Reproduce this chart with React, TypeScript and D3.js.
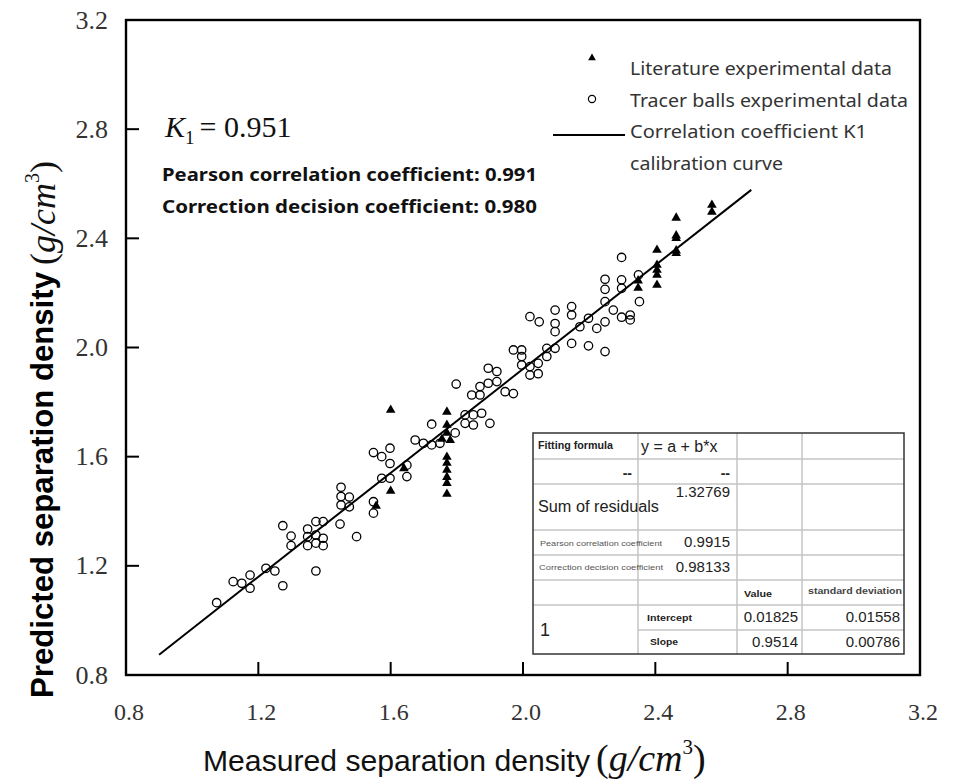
import React from "react";
import * as d3 from "d3";

const tickValues = [0.8, 1.2, 1.6, 2.0, 2.4, 2.8, 3.2];
const tickLabels = ["0.8", "1.2", "1.6", "2.0", "2.4", "2.8", "3.2"];

const tracerMeasured = [
  1.074, 1.124, 1.15, 1.175, 1.175, 1.223, 1.25, 1.274, 1.374, 1.274, 1.299, 1.299, 1.349, 1.349, 1.349,
  1.374, 1.396, 1.374, 1.396, 1.396, 1.374, 1.45, 1.45, 1.475, 1.45, 1.475, 1.447, 1.497, 1.548, 1.573,
  1.598, 1.598, 1.573, 1.598, 1.548, 1.548, 1.649, 1.649, 1.674, 1.724, 1.699, 1.749, 1.798, 1.795, 1.724,
  1.825, 1.85, 1.875, 1.825, 1.85, 1.9, 1.845, 1.87, 1.87, 1.895, 1.921, 1.895, 1.921, 1.946, 1.971,
  1.971, 1.996, 1.996, 1.996, 2.021, 2.021, 2.046, 2.046, 2.072, 2.072, 2.097, 2.021, 2.049, 2.097, 2.097,
  2.097, 2.147, 2.147, 2.147, 2.172, 2.198, 2.198, 2.223, 2.248, 2.248, 2.248, 2.273, 2.298, 2.324, 2.324,
  2.248, 2.248, 2.298, 2.298, 2.298, 2.349, 2.352,
];
const tracerPredicted = [
  1.065, 1.142, 1.136, 1.166, 1.118, 1.191, 1.181, 1.127, 1.181, 1.347, 1.309, 1.274, 1.335, 1.307, 1.274,
  1.362, 1.362, 1.313, 1.301, 1.274, 1.283, 1.488, 1.454, 1.452, 1.423, 1.416, 1.353, 1.307, 1.615, 1.6,
  1.631, 1.575, 1.521, 1.521, 1.435, 1.393, 1.569, 1.527, 1.661, 1.719, 1.649, 1.649, 1.866, 1.687, 1.643,
  1.753, 1.753, 1.759, 1.722, 1.716, 1.722, 1.826, 1.826, 1.857, 1.869, 1.875, 1.924, 1.912, 1.838, 1.831,
  1.991, 1.991, 1.967, 1.936, 1.93, 1.899, 1.904, 1.942, 1.967, 1.997, 1.997, 2.113, 2.094, 2.137, 2.088,
  2.058, 2.15, 2.119, 2.015, 2.076, 2.107, 2.006, 2.07, 2.094, 1.985, 2.168, 2.137, 2.111, 2.119, 2.101,
  2.25, 2.213, 2.248, 2.217, 2.33, 2.266, 2.168,
];

const literatureMeasured = [
  1.6, 1.6, 1.556, 1.64, 1.77, 1.77, 1.77, 1.755, 1.78, 1.77, 1.77, 1.77, 1.77, 1.77, 1.77,
  2.348, 2.348, 2.405, 2.405, 2.405, 2.405, 2.405, 2.463, 2.463, 2.463, 2.463, 2.463, 2.571, 2.571,
];
const literaturePredicted = [
  1.771, 1.474, 1.419, 1.557, 1.764, 1.716, 1.687, 1.665, 1.66, 1.599, 1.577, 1.551, 1.525, 1.503, 1.463,
  2.218, 2.245, 2.357, 2.302, 2.284, 2.266, 2.229, 2.475, 2.41, 2.4, 2.355, 2.345, 2.522, 2.497,
];

const fitIntercept = 0.01825;
const fitSlope = 0.9514;
const fitRange = [0.9, 2.69];

const legendLabels = [
  "Literature experimental data",
  "Tracer balls experimental data",
  "Correlation coefficient K1",
  "calibration curve",
];

const SERIF = "'Liberation Serif', 'Times New Roman', serif";
const SANS = "'Liberation Sans', Arial, sans-serif";
const NOTO = "'Noto Sans', 'Open Sans', sans-serif";

export default function App() {
  const x = d3.scaleLinear().domain([0.8, 3.2]).range([126, 920]);
  const y = d3.scaleLinear().domain([0.8, 3.2]).range([675, 20]);

  const tri = d3.symbol(d3.symbolTriangle, 40)() as string;
  const triLegend = d3.symbol(d3.symbolTriangle, 26)() as string;

  const fitLine = d3
    .line<number>()
    .x((d) => x(d))
    .y((d) => y(fitIntercept + fitSlope * d))(fitRange) as string;

  // table geometry
  const tx = [533, 638, 737, 802, 904];
  const ty = [433, 459, 484, 530, 555, 580, 605, 630, 654];
  const gridColor = "#c4c4c4";
  const tColor = "#222";

  return (
    <svg
      width={956}
      height={780}
      style={{ position: "absolute", left: 0, top: 0, background: "#fff" }}
    >
      <rect x={0} y={0} width={956} height={780} fill="#fff" />

      {/* frame */}
      <rect x={126} y={20} width={794} height={655} fill="none" stroke="#000" strokeWidth={2.4} />

      {/* ticks */}
      {tickValues.slice(1, -1).map((v) => (
        <g key={"t" + v}>
          <line x1={x(v)} x2={x(v)} y1={675} y2={662} stroke="#000" strokeWidth={2} />
          <line x1={126} x2={139} y1={y(v)} y2={y(v)} stroke="#000" strokeWidth={2} />
        </g>
      ))}
      {tickValues.map((v, i) => (
        <g key={"l" + v} fontFamily={SERIF} fill="#333">
          <text x={x(v) + 3} y={712} fontSize={24} textAnchor="middle" dominantBaseline="central">
            {tickLabels[i]}
          </text>
          <text x={108} y={y(v)} fontSize={26} textAnchor="end" dominantBaseline="central">
            {tickLabels[i]}
          </text>
        </g>
      ))}

      {/* axis titles */}
      <text x={203} y={771} fontFamily={SANS} fontSize={30} fill="#111" textLength={387} lengthAdjust="spacingAndGlyphs">
        Measured separation density
      </text>
      <text x={596} y={771} fontFamily={SERIF} fontSize={38} fill="#111">
        <tspan>(</tspan>
        <tspan fontStyle="italic">g/cm</tspan>
        <tspan fontSize={21} dy={-17}>3</tspan>
        <tspan dy={17}>)</tspan>
      </text>
      <g transform="translate(53,698) rotate(-90)">
        <text x={0} y={0} fontFamily={SANS} fontWeight="bold" fontSize={31} fill="#000" textLength={426} lengthAdjust="spacingAndGlyphs">
          Predicted separation density
        </text>
        <text x={433} y={2} fontFamily={SERIF} fontSize={36} fill="#111">
          <tspan>(</tspan>
          <tspan fontStyle="italic">g/cm</tspan>
          <tspan fontSize={20} dy={-16}>3</tspan>
          <tspan dy={16}>)</tspan>
        </text>
      </g>

      {/* fit line */}
      <path d={fitLine} fill="none" stroke="#000" strokeWidth={2} />

      {/* tracer circles */}
      {tracerMeasured.map((m, i) => (
        <circle
          key={"c" + i}
          cx={x(m)}
          cy={y(tracerPredicted[i])}
          r={4.2}
          fill="none"
          stroke="#000"
          strokeWidth={1.3}
        />
      ))}

      {/* literature triangles */}
      {literatureMeasured.map((m, i) => (
        <path
          key={"tr" + i}
          d={tri}
          transform={`translate(${x(m)},${y(literaturePredicted[i])})`}
          fill="#000"
        />
      ))}

      {/* annotation */}
      <text x={165} y={137} fontFamily={SERIF} fontSize={30} fill="#111">
        <tspan fontStyle="italic">K</tspan>
        <tspan fontSize={19} dy={7}>1</tspan>
        <tspan dy={-7} dx={5}>= 0.951</tspan>
      </text>
      <text x={162} y={181} fontFamily={NOTO} fontWeight="bold" fontSize={17} fill="#111" textLength={375} lengthAdjust="spacingAndGlyphs">
        Pearson correlation coefficient: 0.991
      </text>
      <text x={162} y={213} fontFamily={NOTO} fontWeight="bold" fontSize={17} fill="#111" textLength={375} lengthAdjust="spacingAndGlyphs">
        Correction decision coefficient: 0.980
      </text>

      {/* legend */}
      <path d={triLegend} transform="translate(592,58)" fill="#000" />
      <circle cx={592} cy={99} r={3.6} fill="none" stroke="#000" strokeWidth={1.2} />
      <line x1={553} x2={625} y1={135} y2={135} stroke="#000" strokeWidth={2} />
      <g fontFamily={NOTO} fontSize={18} fill="#333">
        <text x={630} y={75} textLength={262} lengthAdjust="spacingAndGlyphs">{legendLabels[0]}</text>
        <text x={630} y={107} textLength={278} lengthAdjust="spacingAndGlyphs">{legendLabels[1]}</text>
        <text x={630} y={138} textLength={237} lengthAdjust="spacingAndGlyphs">{legendLabels[2]}</text>
        <text x={630} y={170} textLength={153} lengthAdjust="spacingAndGlyphs">{legendLabels[3]}</text>
      </g>

      {/* fit table */}
      <rect x={tx[0]} y={ty[0]} width={tx[4] - tx[0]} height={ty[8] - ty[0]} fill="#fff" />
      {ty.slice(1, -1).map((v, i) => (
        <line
          key={"h" + i}
          x1={i === 6 ? tx[1] : tx[0]}
          x2={tx[4]}
          y1={v}
          y2={v}
          stroke={gridColor}
          strokeWidth={1.5}
        />
      ))}
      {tx.slice(1, -1).map((v, i) => (
        <line key={"v" + i} x1={v} x2={v} y1={ty[0]} y2={ty[8]} stroke={gridColor} strokeWidth={1.5} />
      ))}
      <rect
        x={tx[0]}
        y={ty[0]}
        width={tx[4] - tx[0]}
        height={ty[8] - ty[0]}
        fill="none"
        stroke="#333"
        strokeWidth={1.5}
      />
      <g fontFamily={SANS} fill={tColor}>
        <text x={538} y={449} fontSize={10} fontWeight="bold" textLength={75} lengthAdjust="spacingAndGlyphs">Fitting formula</text>
        <text x={641} y={452} fontSize={16}>y = a + b*x</text>
        <text x={632} y={478} fontSize={14} fontWeight="bold" textAnchor="end">--</text>
        <text x={730} y={478} fontSize={14} fontWeight="bold" textAnchor="end">--</text>
        <text x={538} y={512} fontSize={16} textLength={121} lengthAdjust="spacingAndGlyphs">Sum of residuals</text>
        <text x={730} y={497} fontSize={15} textAnchor="end">1.32769</text>
        <text x={540} y={546} fontSize={7} fill="#555" textLength={122} lengthAdjust="spacingAndGlyphs">Pearson correlation coefficient</text>
        <text x={730} y={547} fontSize={15} textAnchor="end">0.9915</text>
        <text x={539} y={570} fontSize={7} fill="#555" textLength={124} lengthAdjust="spacingAndGlyphs">Correction decision coefficient</text>
        <text x={730} y={572} fontSize={15} textAnchor="end">0.98133</text>
        <text x={744} y={597} fontSize={9} fontWeight="bold" textLength={28} lengthAdjust="spacingAndGlyphs">Value</text>
        <text x={808} y={594} fontSize={9} fontWeight="bold" fill="#444" textLength={94} lengthAdjust="spacingAndGlyphs">standard deviation</text>
        <text x={540} y={636} fontSize={18}>1</text>
        <text x={647} y={621} fontSize={9} fontWeight="bold" textLength={45} lengthAdjust="spacingAndGlyphs">Intercept</text>
        <text x={798} y={622} fontSize={15} textAnchor="end">0.01825</text>
        <text x={900} y={622} fontSize={15} textAnchor="end">0.01558</text>
        <text x={650} y={645} fontSize={9} fontWeight="bold" textLength={28} lengthAdjust="spacingAndGlyphs">Slope</text>
        <text x={798} y={647} fontSize={15} textAnchor="end">0.9514</text>
        <text x={900} y={647} fontSize={15} textAnchor="end">0.00786</text>
      </g>
    </svg>
  );
}
